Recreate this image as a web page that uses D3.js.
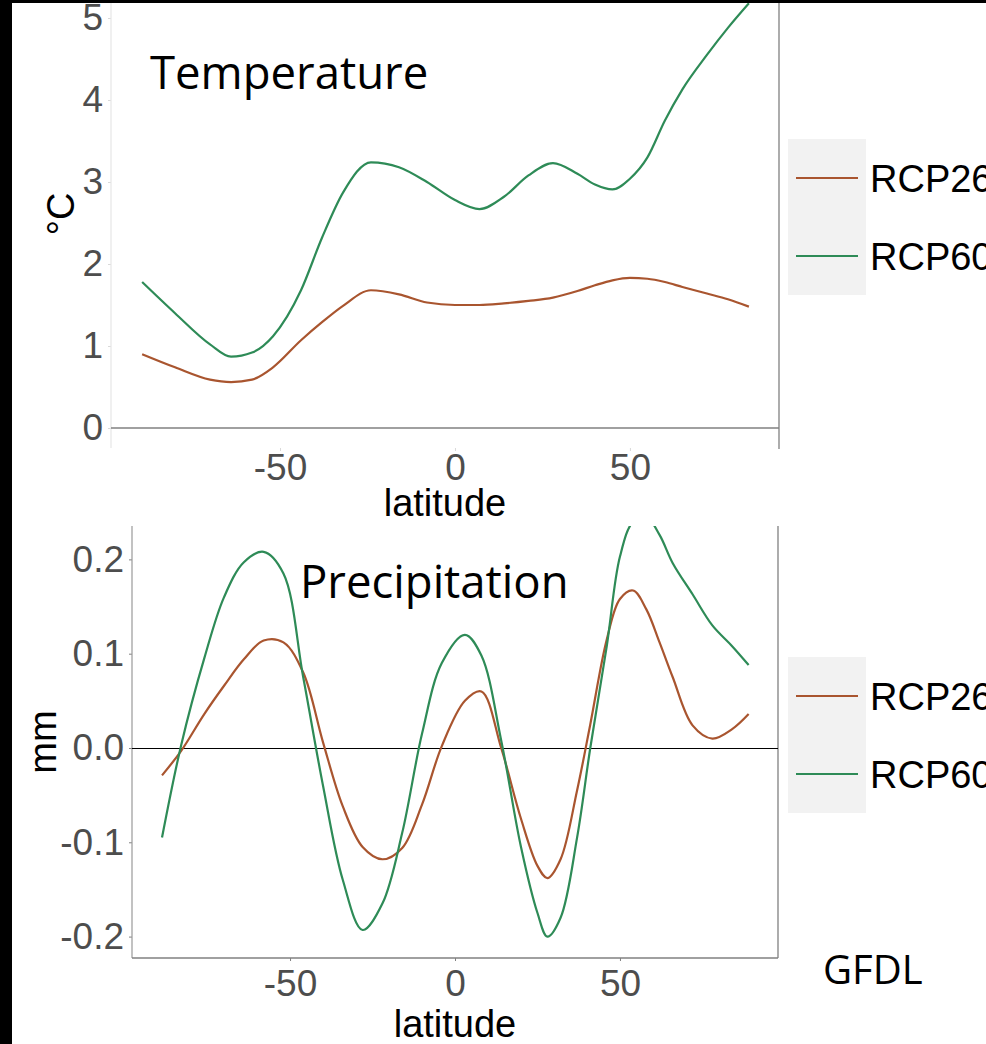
<!DOCTYPE html>
<html>
<head>
<meta charset="utf-8">
<script src="https://cdn.jsdelivr.net/npm/d3@7"></script>
<style>
  body { margin: 0; background: #000; }
  svg { display: block; }
</style>
</head>
<body>
<div id="chart"></div>
<script>
// Data
var seriesNames = ["RCP26", "RCP60"];

var latTicks = [-50, 0, 50];
var tempTicks = [0, 1, 2, 3, 4, 5];
var precipTicks = [-0.2, -0.1, 0.0, 0.1, 0.2];

var tempLat = [-89.4, -80, -70, -64, -58, -52, -44, -38, -32, -24, -16, -8, 0, 7, 14, 21, 28, 35, 40, 45, 50, 55, 60, 65, 72, 78, 84];
var tempRCP26 = [0.90, 0.74, 0.59, 0.56, 0.59, 0.74, 1.07, 1.29, 1.49, 1.68, 1.63, 1.53, 1.50, 1.50, 1.52, 1.55, 1.59, 1.67, 1.74, 1.80, 1.83, 1.82, 1.78, 1.72, 1.64, 1.57, 1.48];
var tempRCP60 = [1.78, 1.40, 1.02, 0.87, 0.92, 1.12, 1.68, 2.32, 2.87, 3.24, 3.18, 3.00, 2.78, 2.67, 2.82, 3.08, 3.23, 3.10, 2.97, 2.91, 3.04, 3.30, 3.75, 4.13, 4.55, 4.88, 5.18];

var precipLat = [-88.8, -83, -76, -70, -64, -58, -52, -46, -40, -34, -28, -22, -16, -10, -4, 3, 8, 14, 20, 25, 28, 32, 37, 41, 46, 50, 54, 58, 62, 66, 72, 78, 84, 89];
var precipRCP26 = [-0.029, -0.003, 0.036, 0.066, 0.094, 0.114, 0.112, 0.080, 0.006, -0.062, -0.105, -0.118, -0.106, -0.060, 0.002, 0.050, 0.060, 0.000, -0.075, -0.125, -0.138, -0.118, -0.045, 0.025, 0.115, 0.158, 0.167, 0.147, 0.112, 0.075, 0.024, 0.010, 0.020, 0.036];
var precipRCP60 = [-0.095, 0.003, 0.095, 0.160, 0.197, 0.208, 0.185, 0.075, -0.040, -0.140, -0.193, -0.165, -0.090, 0.015, 0.090, 0.120, 0.098, 0.008, -0.105, -0.175, -0.200, -0.180, -0.095, 0.000, 0.108, 0.203, 0.240, 0.245, 0.226, 0.196, 0.163, 0.130, 0.108, 0.088];

var W = 986, H = 1044;
var color = d3.scaleOrdinal().domain(seriesNames).range(["#a9552f", "#2e8b57"]);

var svg = d3.select("#chart").append("svg")
  .attr("width", W)
  .attr("height", H);

// slide background
svg.append("rect").attr("width", W).attr("height", H).attr("fill", "#000");
svg.append("rect")
  .attr("x", 12).attr("y", 3)
  .attr("width", W - 12).attr("height", H - 3)
  .attr("fill", "#fff");

function drawPanel(p) {
  var x = d3.scaleLinear().domain(p.xDomain).range([p.left, p.right]);
  var y = d3.scaleLinear().domain(p.yDomain).range([p.bottom, p.top]);

  var g = svg.append("g");

  g.append("clipPath").attr("id", p.id)
    .append("rect")
    .attr("x", p.left).attr("y", p.top)
    .attr("width", p.right - p.left).attr("height", p.bottom - p.top);

  // y axis
  var yAxis = d3.axisLeft(y)
    .tickValues(p.yTicks)
    .tickSize(3)
    .tickPadding(5)
    .tickFormat(p.yFormat);
  var ga = g.append("g")
    .attr("transform", "translate(" + p.left + ",0)")
    .call(yAxis);
  ga.select(".domain").remove();
  ga.selectAll(".tick line").attr("stroke", p.tickColor);
  ga.selectAll(".tick text")
    .attr("fill", "#4d4d4d")
    .style("font-family", "'Liberation Sans', Arial, sans-serif")
    .style("font-size", "37px");

  // x axis
  var xAxis = d3.axisBottom(x)
    .tickValues(latTicks)
    .tickSize(3)
    .tickPadding(p.xPad)
    .tickFormat(function(d) { return String(d); });
  var gx = g.append("g")
    .attr("transform", "translate(0," + p.bottom + ")")
    .call(xAxis);
  gx.select(".domain").remove();
  gx.selectAll(".tick line").attr("stroke", p.tickColor);
  gx.selectAll(".tick text")
    .attr("fill", "#4d4d4d")
    .style("font-family", "'Liberation Sans', Arial, sans-serif")
    .style("font-size", "37px");

  // frame lines
  g.append("line")
    .attr("x1", p.left).attr("x2", p.left)
    .attr("y1", p.top).attr("y2", p.bottom)
    .attr("stroke", p.leftColor).attr("stroke-width", 1.2);
  g.append("line")
    .attr("x1", p.right).attr("x2", p.right)
    .attr("y1", p.top).attr("y2", p.bottom + p.rightExtra)
    .attr("stroke", "#808080").attr("stroke-width", 1.3);
  g.append("line")
    .attr("x1", p.left).attr("x2", p.right)
    .attr("y1", y(p.baseValue)).attr("y2", y(p.baseValue))
    .attr("stroke", p.baseColor).attr("stroke-width", 1.3);
  if (p.zeroLine) {
    var y0 = Math.round(y(0)) + 0.5;
    g.append("line")
      .attr("x1", p.left).attr("x2", p.right)
      .attr("y1", y0).attr("y2", y0)
      .attr("stroke", "#000").attr("stroke-width", 1);
  }

  // curves
  var line = d3.line()
    .x(function(d) { return x(d[0]); })
    .y(function(d) { return y(d[1]); })
    .curve(p.curve);

  p.series.forEach(function(vals, i) {
    var pts = p.lat.map(function(l, j) { return [l, vals[j]]; });
    g.append("path")
      .datum(pts)
      .attr("clip-path", "url(#" + p.id + ")")
      .attr("fill", "none")
      .attr("stroke", color(seriesNames[i]))
      .attr("stroke-width", 2.2)
      .attr("d", line);
  });

  // axis titles
  g.append("text")
    .attr("x", (p.left + p.right) / 2)
    .attr("y", p.xTitleY)
    .attr("text-anchor", "middle")
    .style("font-family", "'Liberation Sans', Arial, sans-serif")
    .style("font-size", "38px")
    .text("latitude");
  g.append("text")
    .attr("transform", "translate(" + p.yTitleX + "," + p.yTitleY + ") rotate(-90)")
    .attr("text-anchor", "middle")
    .style("font-family", "'Liberation Sans', Arial, sans-serif")
    .style("font-size", "38px")
    .text(p.yTitle);

  // title in the panel
  g.append("text")
    .attr("x", p.titleX).attr("y", p.titleY)
    .style("font-family", "'Open Sans', 'Noto Sans', sans-serif")
    .style("font-size", "45.5px")
    .text(p.title);

  // legend
  var lg = g.append("g");
  lg.append("rect")
    .attr("x", 788).attr("y", p.legendTop)
    .attr("width", 78).attr("height", 156)
    .attr("fill", "#f2f2f2");
  seriesNames.forEach(function(name, i) {
    var ly = p.legendTop + 39 + i * 78;
    lg.append("line")
      .attr("x1", 796).attr("x2", 858)
      .attr("y1", ly).attr("y2", ly)
      .attr("stroke", color(name)).attr("stroke-width", 2.2);
    lg.append("text")
      .attr("x", 870).attr("y", ly + 14)
      .style("font-family", "'Liberation Sans', Arial, sans-serif")
      .style("font-size", "38px")
      .text(name);
  });
}

// Temperature panel
drawPanel({
  id: "clipTemp",
  left: 111, right: 779, top: 3, bottom: 448,
  xDomain: [-98.3, 92.6], yDomain: [-0.244, 5.183],
  yTicks: tempTicks, yFormat: function(d) { return String(d); },
  lat: tempLat, series: [tempRCP26, tempRCP60],
  curve: d3.curveMonotoneX,
  tickColor: "#d9d9d9", leftColor: "#e6e6e6", baseValue: 0, baseColor: "#808080",
  rightExtra: 1, zeroLine: false, xPad: 3,
  xTitleY: 516, yTitleX: 74, yTitleY: 214, yTitle: "°C",
  title: "Temperature", titleX: 150, titleY: 89,
  legendTop: 139
});

// Precipitation panel
drawPanel({
  id: "clipPrecip",
  left: 132, right: 778, top: 526, bottom: 958,
  xDomain: [-97.9, 97.9], yDomain: [-0.2227, 0.2354],
  yTicks: precipTicks, yFormat: function(d) { return d.toFixed(1); },
  lat: precipLat, series: [precipRCP26, precipRCP60],
  curve: d3.curveCatmullRom.alpha(0.5),
  tickColor: "#808080", leftColor: "#999999", baseValue: -0.2227, baseColor: "#808080",
  rightExtra: 0, zeroLine: true, xPad: 9,
  xTitleY: 1037, yTitleX: 56, yTitleY: 742, yTitle: "mm",
  title: "Precipitation", titleX: 300, titleY: 598,
  legendTop: 657
});

// model name
svg.append("text")
  .attr("x", 823).attr("y", 984)
  .style("font-family", "'Open Sans', 'Noto Sans', sans-serif")
  .style("font-size", "40px")
  .text("GFDL");
</script>
</body>
</html>
